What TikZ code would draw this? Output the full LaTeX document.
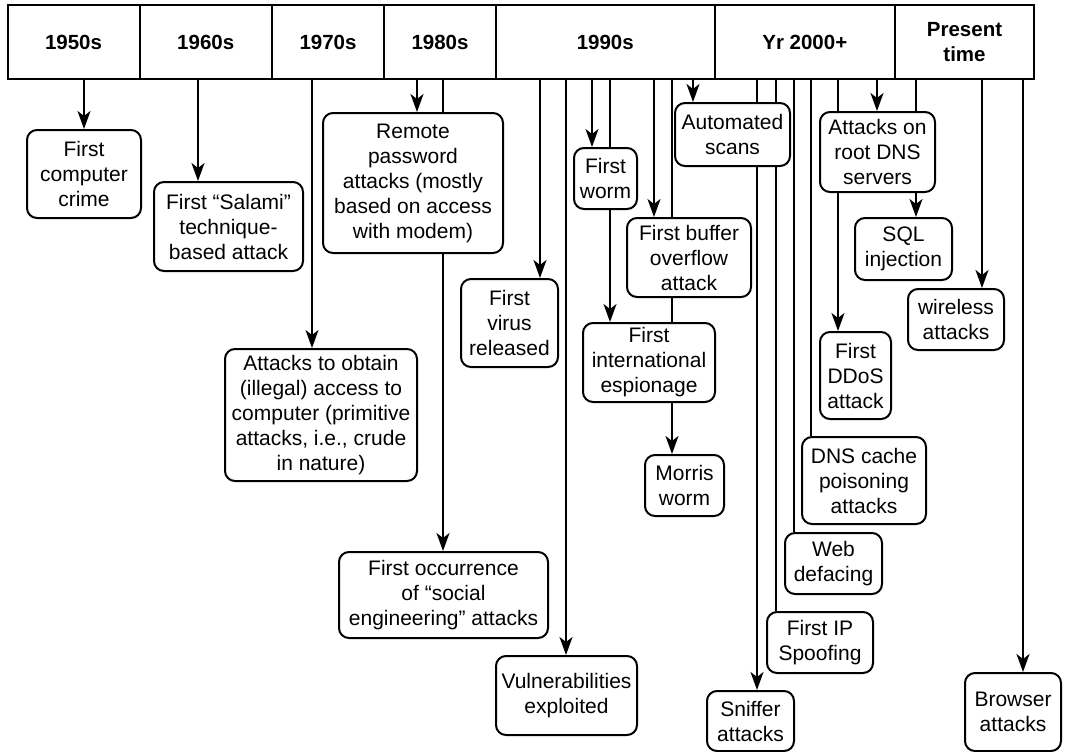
\documentclass[tikz,border=0pt]{standalone}
\usepackage{fontspec}
\setmainfont{Liberation Sans}
\usetikzlibrary{arrows.meta,calc}
\begin{document}
\begin{tikzpicture}[x=1pt,y=-1pt,
  box/.style={draw, line width=2pt, rounded corners=10pt, align=center, inner sep=0pt, font=\fontsize{21}{25}\selectfont},
  era/.style={draw, line width=2pt, inner sep=0pt, align=center, minimum height=74pt, font=\fontsize{20.5}{25}\selectfont\bfseries},
  ln/.style={line width=2pt},
  arr/.style={ln, -{Stealth[length=18pt,width=13pt,inset=5pt]}},
]
\useasboundingbox (0,0) rectangle (1071,752);
% timeline
\node[era, minimum width=131.9pt] (e50) at (73.55,42) {1950s};
\node[era, minimum width=132.5pt] (e60) at (205.75,42) {1960s};
\node[era, minimum width=112pt] (e70) at (328,42) {1970s};
\node[era, minimum width=112pt] (e80) at (440,42) {1980s};
\node[era, minimum width=218.6pt] (e90) at (605.3,42) {1990s};
\node[era, minimum width=180.4pt] (e00) at (804.8,42) {Yr 2000+};
\node[era, minimum width=139pt] (ep) at (964.5,42) {Present\\time};
% boxes
\node[box, minimum width=114pt, minimum height=88pt] (crime) at (84,174) {First\\computer\\crime};
\node[box, minimum width=149pt, minimum height=89pt] (salami) at (228.5,226.5) {First “Salami”\\technique-\\based attack};
\node[box, minimum width=192pt, minimum height=132pt] (obtain) at (321,415) {Attacks to obtain\\(illegal) access to\\computer (primitive\\attacks, i.e., crude\\in nature)};
\node[box, minimum width=180pt, minimum height=140pt] (remote) at (413,183) {Remote\\password\\attacks (mostly\\based on access\\with modem)};
\node[box, minimum width=209pt, minimum height=86pt] (occur) at (443.5,595) {First occurrence\\of “social\\engineering” attacks};
\node[box, minimum width=97pt, minimum height=88pt] (virus) at (509.5,323) {First\\virus\\released};
\node[box, minimum width=141pt, minimum height=79pt] (vuln) at (566.5,695.5) {Vulnerabilities\\exploited};
\node[box, minimum width=63pt, minimum height=61pt] (worm) at (605.5,178.5) {First\\worm};
\node[box, minimum width=124pt, minimum height=79pt] (buffer) at (689,257.5) {First buffer\\overflow\\attack};
\node[box, minimum width=132pt, minimum height=79pt] (intl) at (649,362.5) {First\\international\\espionage};
\node[box, minimum width=79pt, minimum height=61pt] (morris) at (684.5,485.5) {Morris\\worm};
\node[box, minimum width=115pt, minimum height=63pt] (auto) at (732.5,134.5) {Automated\\scans};
\node[box, minimum width=87pt, minimum height=60pt] (sniffer) at (750.5,721) {Sniffer\\attacks};
\node[box, minimum width=106pt, minimum height=61pt] (ipspoof) at (820,642.5) {First IP\\Spoofing};
\node[box, minimum width=97pt, minimum height=61pt] (web) at (833.5,563.5) {Web\\defacing};
\node[box, minimum width=124pt, minimum height=87pt] (dnscache) at (864,480.5) {DNS cache\\poisoning\\attacks};
\node[box, minimum width=71pt, minimum height=87pt] (ddos) at (855.5,375.5) {First\\DDoS\\attack};
\node[box, minimum width=115pt, minimum height=80pt] (rootdns) at (877.5,152) {Attacks on\\root DNS\\servers};
\node[box, minimum width=97pt, minimum height=62pt] (sql) at (903.5,249) {SQL\\injection};
\node[box, minimum width=96pt, minimum height=61pt] (wireless) at (956,319.5) {wireless\\attacks};
\node[box, minimum width=96pt, minimum height=78pt] (browser) at (1013,712) {Browser\\attacks};
% x positions of connectors
\foreach \x in {84,198,312,417,443,540,566,592,610,654,672,693,757,776,794,811,838,877,916,982,1023}
  \coordinate (x\x) at (\x,0);
% connectors
\draw[arr] (e50.south -| x84) -- (crime.north -| x84);
\draw[arr] (e60.south -| x198) -- (salami.north -| x198);
\draw[arr] (e70.south -| x312) -- (obtain.north -| x312);
\draw[arr] (e80.south -| x417) -- (remote.north -| x417);
\draw[ln] (e80.south -| x443) -- (remote.north -| x443);
\draw[arr] (remote.south -| x443) -- (occur.north -| x443);
\draw[arr] (e90.south -| x540) -- (virus.north -| x540);
\draw[arr] (e90.south -| x566) -- (vuln.north -| x566);
\draw[arr] (e90.south -| x592) -- (worm.north -| x592);
\draw[ln] (e90.south -| x610) -- (worm.north -| x610);
\draw[arr] (worm.south -| x610) -- (intl.north -| x610);
\draw[arr] (e90.south -| x654) -- (buffer.north -| x654);
\draw[ln] (e90.south -| x672) -- (buffer.north -| x672);
\draw[ln] (buffer.south -| x672) -- (intl.north -| x672);
\draw[arr] (intl.south -| x672) -- (morris.north -| x672);
\draw[arr] (e90.south -| x693) -- (auto.north -| x693);
\draw[ln] (e00.south -| x757) -- (auto.north -| x757);
\draw[arr] (auto.south -| x757) -- (sniffer.north -| x757);
\draw[ln] (e00.south -| x776) -- (auto.north -| x776);
\draw[ln] (auto.south -| x776) -- (ipspoof.north -| x776);
\draw[ln] (e00.south -| x794) -- (web.north -| x794);
\draw[ln] (e00.south -| x811) -- (dnscache.north -| x811);
\draw[ln] (e00.south -| x838) -- (rootdns.north -| x838);
\draw[arr] (rootdns.south -| x838) -- (ddos.north -| x838);
\draw[arr] (e00.south -| x877) -- (rootdns.north -| x877);
\draw[ln] (ep.south -| x916) -- (rootdns.north -| x916);
\draw[arr] (rootdns.south -| x916) -- (sql.north -| x916);
\draw[arr] (ep.south -| x982) -- (wireless.north -| x982);
\draw[arr] (ep.south -| x1023) -- (browser.north -| x1023);
\end{tikzpicture}
\end{document}
